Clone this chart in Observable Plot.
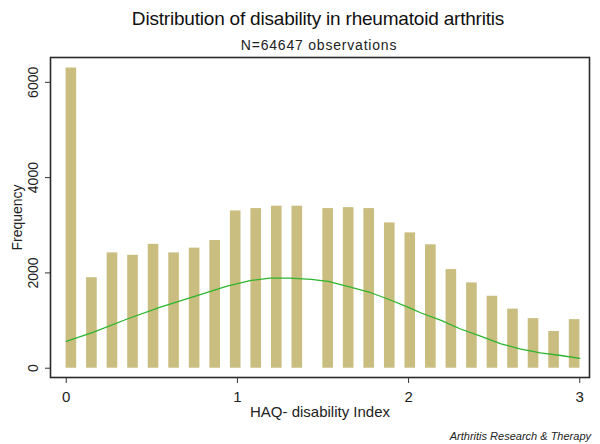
<!DOCTYPE html>
<html>
<head>
<meta charset="utf-8">
<script src="https://cdn.jsdelivr.net/npm/d3@7"></script>
<script src="https://cdn.jsdelivr.net/npm/@observablehq/plot@0.6"></script>
<style>
  body { margin: 0; background: #fff; font-family: "Liberation Sans", Arial, sans-serif; }
  #wrap { position: relative; width: 600px; height: 444px; overflow: hidden; }
  #chart { position: absolute; left: 0; top: 0; }
  .t { position: absolute; white-space: nowrap; transform: translateX(-50%); color: #111; }
  #title { left: 318px; top: 8px; font-size: 19px; letter-spacing: -0.2px; }
  #subtitle { left: 319px; top: 37px; font-size: 14px; letter-spacing: 0.8px; color: #222; }
  #footer { position: absolute; right: 9px; top: 430px; font-size: 11px; font-style: italic; color: #222; white-space: nowrap; }
</style>
</head>
<body>
<div id="wrap">
  <div id="chart"></div>
  <div id="title" class="t">Distribution of disability in rheumatoid arthritis</div>
  <div id="subtitle" class="t">N=64647 observations</div>
  <div id="footer">Arthritis Research &amp; Therapy</div>
</div>
<script>
// Bar centres (HAQ-DI)
const barCenters = [0.03, 0.15, 0.27, 0.39, 0.51, 0.63, 0.75, 0.87, 0.99, 1.11, 1.23, 1.35,
                    1.53, 1.65, 1.77, 1.89, 2.01, 2.13, 2.25, 2.37, 2.49, 2.61, 2.73, 2.85, 2.97];
// Frequencies of each bar
const frequencies = [6300, 1900, 2420, 2370, 2600, 2420, 2520, 2680, 3300, 3350, 3400, 3400,
                     3350, 3370, 3350, 3050, 2840, 2590, 2070, 1790, 1510, 1240, 1040, 770, 1020];
// Green fitted curve
const curveX = [0.0, 0.16, 0.36, 0.55, 0.75, 0.94, 1.08, 1.19, 1.31, 1.43, 1.53, 1.66,
                1.78, 1.89, 2.01, 2.07, 2.19, 2.30, 2.42, 2.54, 2.65, 2.77, 2.89, 3.0];
const curveY = [565, 756, 1038, 1282, 1506, 1723, 1842, 1891, 1891, 1863, 1821, 1702,
                1584, 1437, 1261, 1164, 1002, 828, 672, 513, 408, 324, 267, 205];
const xTicks = [0, 1, 2, 3];
const yTicks = [0, 2000, 4000, 6000];

const bars = barCenters.map((c, i) => ({c, f: frequencies[i]}));
const curve = curveX.map((x, i) => ({x, y: curveY[i]}));
const halfW = 0.031;

const chart = Plot.plot({
  width: 600,
  height: 444,
  marginLeft: 50,
  marginRight: 11,
  marginTop: 57,
  marginBottom: 67,
  style: {fontFamily: "'Liberation Sans', Arial, sans-serif", fontSize: "14px", color: "#222", background: "transparent", overflow: "visible"},
  x: {domain: [-0.092, 3.057]},
  y: {domain: [-195, 6521]},
  marks: [
    Plot.rect(bars, {x1: d => d.c - halfW, x2: d => d.c + halfW, y1: 0, y2: "f", fill: "#c9bd80"}),
    Plot.line(curve, {x: "x", y: "y", stroke: "#2db52d", strokeWidth: 1.3}),
    Plot.frame({stroke: "#2a2a2a", strokeWidth: 1.6}),
    Plot.axisX({ticks: xTicks, tickSize: 6, tickPadding: 8, tickFormat: d => String(d), fontSize: 15,
                stroke: "#333", label: "HAQ- disability Index", labelAnchor: "center", labelArrow: "none", labelOffset: 39}),
    Plot.axisY({ticks: yTicks, tickSize: 5, tickPadding: 8, tickRotate: -90, tickFormat: d => String(d), fontSize: 14,
                stroke: "#333", label: "Frequency", labelAnchor: "center", labelArrow: "none", labelOffset: 38})
  ]
});
document.getElementById("chart").appendChild(chart);
</script>
</body>
</html>
